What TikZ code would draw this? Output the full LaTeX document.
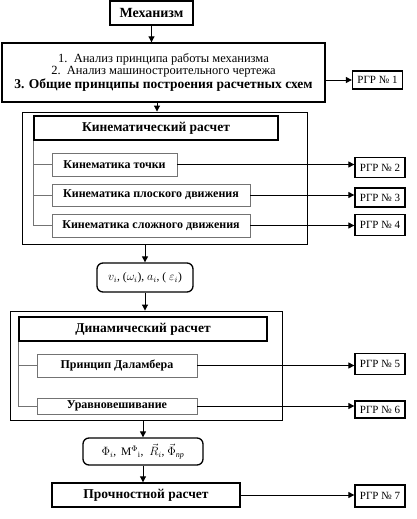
\documentclass[tikz,border=0pt]{standalone}
\usepackage{fontspec}
\usepackage{amsmath}
\setmainfont{Liberation Serif}
\usetikzlibrary{arrows.meta, positioning, calc}
\tikzset{
	mainbox/.style={rectangle, draw=black, line width=1.4pt, inner sep=0pt, align=center},
	framebox/.style={rectangle, draw=black, line width=0.9pt, inner sep=0pt},
	headbox/.style={rectangle, draw=black, line width=1.2pt, inner sep=0pt, font=\bfseries\fontsize{13.5}{15}\selectfont},
	subbox/.style={rectangle, draw=black!55, line width=0.8pt, inner sep=0pt, font=\bfseries\fontsize{12}{14}\selectfont},
	rgr/.style={rectangle, draw=black, line width=1.3pt, minimum width=50pt, inner sep=0pt, font=\fontsize{11}{12}\selectfont},
	valbox/.style={rectangle, rounded corners=6pt, draw=black, line width=1.3pt, inner sep=0pt, align=center, font=\fontsize{11.5}{13}\selectfont},
	arr/.style={-{Triangle[length=6pt, width=6pt]}, line width=1pt},
	tree/.style={draw=black!55, line width=0.8pt},
}

\begin{document}
\begin{tikzpicture}[x=1pt, y=-1pt]
	\useasboundingbox (0,0) rectangle (416,519);
	% ---- top ----
	\node[mainbox, minimum width=83pt, minimum height=24pt, font=\bfseries\fontsize{14}{15}\selectfont] (mech) at (151.5,13) {Механизм};
	\node[mainbox, minimum width=323pt, minimum height=59pt] (anal) at (163.5,72.5)
		{{\fontsize{12.5}{15.5}\selectfont 1.\ \ Анализ принципа работы механизма}\\
		 {\fontsize{12.5}{15.5}\selectfont 2.\ \ Анализ машиностроительного чертежа}\\
		 {\bfseries\fontsize{13.5}{15.5}\selectfont 3. Общие принципы построения расчетных схем}};
	\node[rgr, minimum height=18pt] (rgr1) at (377.5,80) {РГР № 1};
	\draw[arr] (mech.south) -- (mech.south |- anal.north);
	\draw[arr] (anal.east |- rgr1.west) -- (rgr1.west);
	% ---- kinematics ----
	\node[framebox, minimum width=285pt, minimum height=132pt] (kinbox) at (164.5,178) {};
	\draw[arr] ([xshift=-6.5pt]anal.south) -- ([xshift=-6.5pt]anal.south |- kinbox.north);
	\node[headbox, minimum width=244pt, minimum height=24pt] (kinhead) at (156,128) {Кинематический расчет};
	\node[subbox, minimum width=125pt, minimum height=23pt] (k1) at (114.5,164.5) {Кинематика точки};
	\node[subbox, minimum width=198pt, minimum height=22pt] (k2) at (151,195) {Кинематика плоского движения};
	\node[subbox, minimum width=198pt, minimum height=23pt] (k3) at (151,225.5) {Кинематика сложного движения};
	\draw[tree] (kinhead.south west) |- (k3.west);
	\draw[tree] (kinhead.south west |- k1.west) -- (k1.west);
	\draw[tree] (kinhead.south west |- k2.west) -- (k2.west);
	\node[rgr, minimum height=20pt] (rgr2) at (380,167.5) {РГР № 2};
	\node[rgr, minimum height=19pt] (rgr3) at (380,197.5) {РГР № 3};
	\node[rgr, minimum height=21pt] (rgr4) at (380,225) {РГР № 4};
	\draw[arr] (k1.east) -- (k1.east -| rgr2.west);
	\draw[arr] (k2.east) -- (k2.east -| rgr3.west);
	\draw[arr] (k3.east) -- (k3.east -| rgr4.west);
	% ---- kinematic values ----
	\node[valbox, minimum width=96pt, minimum height=29pt] (vals1) at (145,277.5)
		{$v_i$, ($\omega_i$), $a_i$, ( $\varepsilon_i$)};
	\draw[arr] (vals1.north |- kinbox.south) -- (vals1.north);
	% ---- dynamics ----
	\node[framebox, minimum width=272pt, minimum height=109pt] (dynbox) at (146,365.5) {};
	\draw[arr] (vals1.south) -- (vals1.south |- dynbox.north);
	\node[headbox, minimum width=248pt, minimum height=24pt] (dynhead) at (143,329) {Динамический расчет};
	\node[subbox, minimum width=160pt, minimum height=23pt] (d1) at (117,365.5) {Принцип Даламбера};
	\node[subbox, minimum width=160pt, minimum height=16pt] (d2) at (117,406) {Уравновешивание};
	\draw[tree] (dynhead.south west) |- (d2.west);
	\draw[tree] (dynhead.south west |- d1.west) -- (d1.west);
	\node[rgr, minimum height=21pt] (rgr5) at (380,364) {РГР № 5};
	\node[rgr, minimum height=17pt] (rgr6) at (380,409.5) {РГР № 6};
	\draw[arr] (d1.east) -- (d1.east -| rgr5.west);
	\draw[arr] (d2.east) -- (d2.east -| rgr6.west);
	% ---- forces ----
	\node[valbox, minimum width=120pt, minimum height=27pt] (vals2) at (143,451.5)
		{$\Phi_i$,\, M$^{\Phi}{}_{\mathrm{i}}$,\ \ $\vec{R}_i$,\ $\vec{\Phi}_{\text{\itshape пр}}$};
	\draw[arr] (vals2.north |- dynbox.south) -- (vals2.north);
	% ---- strength ----
	\node[mainbox, minimum width=188pt, minimum height=24pt, font=\bfseries\fontsize{13.5}{15}\selectfont] (str) at (146,495) {Прочностной расчет};
	\node[rgr, minimum height=22pt] (rgr7) at (380,496) {РГР № 7};
	\draw[arr] (vals2.south) -- (vals2.south |- str.north);
	\draw[arr] (str.east) -- (str.east -| rgr7.west);
\end{tikzpicture}
\end{document}
